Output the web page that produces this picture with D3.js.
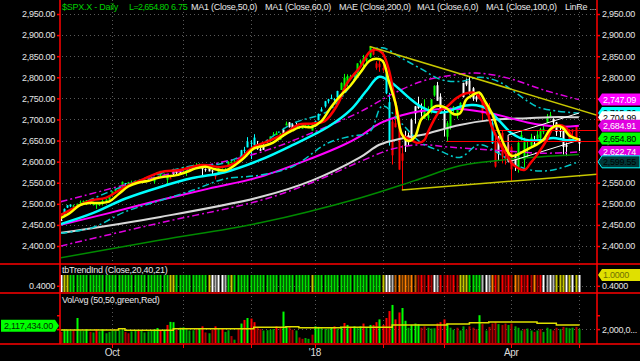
<!DOCTYPE html>
<html>
<head>
<meta charset="utf-8">
<script src="https://cdn.jsdelivr.net/npm/d3@7"></script>
<style>
  body { margin: 0; background: #000; }
  svg { display: block; font-family: "Liberation Sans", Arial, sans-serif; }
  text { font-size: 9px; letter-spacing: -0.25px; }
</style>
</head>
<body>
<svg id="chart" width="640" height="361"></svg>
<script>
// ---- data ----
const dates = [
  "2017-09-08","2017-09-11","2017-09-12","2017-09-13","2017-09-14","2017-09-15","2017-09-18","2017-09-19","2017-09-20","2017-09-21","2017-09-22","2017-09-25","2017-09-26","2017-09-27","2017-09-28","2017-09-29",
  "2017-10-02","2017-10-03","2017-10-04","2017-10-05","2017-10-06","2017-10-09","2017-10-10","2017-10-11","2017-10-12","2017-10-13","2017-10-16","2017-10-17","2017-10-18","2017-10-19","2017-10-20","2017-10-23","2017-10-24","2017-10-25","2017-10-26","2017-10-27","2017-10-30","2017-10-31",
  "2017-11-01","2017-11-02","2017-11-03","2017-11-06","2017-11-07","2017-11-08","2017-11-09","2017-11-10","2017-11-13","2017-11-14","2017-11-15","2017-11-16","2017-11-17","2017-11-20","2017-11-21","2017-11-22","2017-11-24","2017-11-27","2017-11-28","2017-11-29","2017-11-30",
  "2017-12-01","2017-12-04","2017-12-05","2017-12-06","2017-12-07","2017-12-08","2017-12-11","2017-12-12","2017-12-13","2017-12-14","2017-12-15","2017-12-18","2017-12-19","2017-12-20","2017-12-21","2017-12-22","2017-12-26","2017-12-27","2017-12-28","2017-12-29",
  "2018-01-02","2018-01-03","2018-01-04","2018-01-05","2018-01-08","2018-01-09","2018-01-10","2018-01-11","2018-01-12","2018-01-16","2018-01-17","2018-01-18","2018-01-19","2018-01-22","2018-01-23","2018-01-24","2018-01-25","2018-01-26","2018-01-29","2018-01-30","2018-01-31",
  "2018-02-01","2018-02-02","2018-02-05","2018-02-06","2018-02-07","2018-02-08","2018-02-09","2018-02-12","2018-02-13","2018-02-14","2018-02-15","2018-02-16","2018-02-20","2018-02-21","2018-02-22","2018-02-23","2018-02-26","2018-02-27","2018-02-28",
  "2018-03-01","2018-03-02","2018-03-05","2018-03-06","2018-03-07","2018-03-08","2018-03-09","2018-03-12","2018-03-13","2018-03-14","2018-03-15","2018-03-16","2018-03-19","2018-03-20","2018-03-21","2018-03-22","2018-03-23","2018-03-26","2018-03-27","2018-03-28","2018-03-29",
  "2018-04-02","2018-04-03","2018-04-04","2018-04-05","2018-04-06","2018-04-09","2018-04-10","2018-04-11","2018-04-12","2018-04-13","2018-04-16","2018-04-17","2018-04-18","2018-04-19","2018-04-20","2018-04-23","2018-04-24","2018-04-25","2018-04-26","2018-04-27","2018-04-30",
  "2018-05-01"
];

const opens = [
  2462,2474,2491,2494,2495,2496,2502,2506,2507,2507,2497,2499,2501,2503,2503,2510,
  2521,2530,2534,2541,2547,2551,2550,2551,2553,2556,2556,2557,2563,2553,2568,2578,2569,2567,2560,2570,2578,2575,
  2583,2580,2582,2588,2592,2589,2584,2580,2577,2578,2569,2573,2583,2580,2589,2600,2600,2603,2606,2628,2634,
  2645,2657,2640,2626,2628,2646,2652,2662,2668,2666,2661,2686,2693,2688,2683,2684,2679,2682,2686,2689,
  2684,2698,2719,2731,2743,2751,2746,2752,2770,2799,2785,2802,2803,2809,2835,2845,2846,2848,2867,2833,2832,
  2817,2809,2741,2615,2691,2685,2602,2637,2646,2651,2714,2727,2723,2721,2710,2716,2757,2781,2754,
  2715,2659,2681,2730,2710,2733,2753,2791,2792,2774,2754,2751,2741,2715,2715,2691,2647,2619,2668,2611,2611,
  2634,2592,2584,2657,2646,2617,2638,2643,2654,2677,2670,2693,2710,2701,2693,2675,2681,2635,2652,2676,2683,
  2643
];
const highs = [
  2467,2489,2497,2498,2498,2500,2508,2508,2509,2507,2504,2503,2504,2512,2511,2519,
  2529,2535,2541,2553,2549,2552,2555,2555,2555,2558,2560,2560,2564,2562,2575,2578,2572,2567,2567,2583,2580,2578,
  2588,2581,2588,2593,2597,2596,2587,2584,2588,2580,2573,2590,2584,2585,2601,2601,2604,2606,2628,2635,2658,
  2651,2665,2649,2634,2641,2652,2660,2670,2672,2668,2680,2695,2694,2691,2693,2685,2683,2686,2688,2692,
  2696,2714,2729,2744,2749,2759,2751,2768,2788,2808,2807,2806,2810,2833,2842,2853,2849,2873,2871,2838,2839,
  2836,2809,2763,2701,2728,2685,2639,2673,2669,2702,2732,2754,2738,2748,2731,2748,2781,2789,2762,
  2731,2696,2728,2732,2731,2741,2787,2797,2802,2777,2763,2762,2741,2724,2739,2696,2658,2661,2675,2633,2659,
  2638,2619,2650,2672,2657,2654,2666,2661,2675,2680,2687,2713,2718,2703,2694,2683,2684,2645,2677,2677,2683,
  2655
];
const lows = [
  2459,2474,2490,2492,2491,2493,2500,2503,2497,2499,2496,2488,2495,2496,2503,2508,
  2520,2529,2532,2540,2544,2542,2545,2548,2548,2552,2553,2555,2560,2548,2568,2564,2566,2544,2560,2566,2566,2572,
  2575,2566,2577,2586,2584,2585,2566,2576,2577,2567,2558,2573,2578,2578,2589,2597,2600,2599,2605,2620,2634,
  2606,2639,2628,2625,2628,2644,2652,2660,2663,2652,2659,2686,2681,2676,2682,2678,2678,2679,2683,2674,
  2682,2698,2719,2728,2738,2748,2736,2752,2770,2769,2778,2793,2798,2808,2831,2825,2831,2846,2852,2818,2813,
  2813,2760,2638,2593,2681,2581,2533,2623,2637,2649,2690,2725,2707,2701,2698,2714,2754,2744,2714,
  2660,2647,2676,2711,2702,2723,2752,2779,2759,2744,2742,2750,2695,2710,2710,2642,2586,2602,2596,2593,2610,
  2554,2578,2574,2650,2586,2611,2636,2639,2654,2645,2665,2692,2704,2682,2661,2658,2617,2613,2647,2659,2648,
  2625
];
const closes = [
  2461.43,2488.11,2496.48,2498.37,2495.62,2500.23,2503.87,2506.65,2508.24,2500.60,2502.22,2496.66,2496.84,2507.04,2510.06,2519.36,
  2529.12,2534.58,2537.74,2552.07,2549.33,2544.73,2550.64,2555.24,2550.93,2553.17,2557.64,2559.36,2561.26,2562.10,2575.21,2564.98,2569.13,2557.15,2560.40,2581.07,2572.83,2575.26,
  2579.36,2579.85,2587.84,2591.13,2590.64,2594.38,2584.62,2582.30,2584.84,2578.87,2564.62,2585.64,2578.85,2582.14,2599.03,2597.08,2602.42,2601.42,2627.04,2626.07,2647.58,
  2642.22,2639.44,2629.57,2629.27,2636.98,2651.50,2659.99,2664.11,2662.85,2652.01,2675.81,2690.16,2681.47,2679.25,2684.57,2683.34,2680.50,2682.62,2687.54,2673.61,
  2695.81,2713.06,2723.99,2743.15,2747.71,2751.29,2748.23,2767.56,2786.24,2776.42,2802.56,2798.03,2810.30,2832.97,2839.13,2837.54,2839.25,2872.87,2853.53,2822.43,2823.81,
  2821.98,2762.13,2648.94,2695.14,2681.66,2581.00,2619.55,2656.00,2662.94,2698.63,2731.20,2732.22,2716.26,2701.33,2703.96,2747.30,2779.60,2744.28,2713.83,
  2677.67,2691.25,2720.94,2728.12,2726.80,2738.97,2786.57,2783.02,2765.31,2749.48,2747.33,2752.01,2712.92,2716.94,2711.93,2643.69,2588.26,2658.55,2612.62,2605.00,2640.87,
  2581.88,2614.45,2644.69,2662.84,2604.47,2613.16,2656.87,2642.19,2663.99,2656.30,2677.84,2706.39,2708.64,2693.13,2670.14,2670.29,2634.56,2639.40,2666.94,2669.91,2648.05,
  2654.80
];
// candle colour per bar: g green, c cyan, w white, r red
const candleCodes =
  "wcccgggggg" + "gggggggggg" + "cggggggggg" + "ggggrwwwgg" + "ggggwwwwrg" +
  "ggggggcccc" + "cwwwwggggw" + "gwwwgggggc" + "cccccccggg" + "gggggggrrr" +
  "rccrrrrwww" + "wwwggggwww" + "gggggwwwww" + "rrrrcrwrrr" + "rwgggggwgg" +
  "gggwwwwwrr" + "rw";

// volume in thousands (chart units)
const volumes = [
  1900,2000,1980,1950,1960,2400,1950,1930,2000,1900,1880,2000,1920,1990,1850,1900,
  1950,1940,1960,1980,1900,1850,1920,1950,1970,1940,1880,1920,1940,1990,2040,1960,1980,2150,2260,2250,1970,2050,
  2060,2010,1950,1960,2000,2020,2100,1880,1850,1980,2100,2000,2040,1900,1960,1750,1620,2000,2200,2330,2400,
  2380,2250,2050,2000,1950,1960,1980,2000,2100,2050,2630,2100,2080,1980,1950,1700,1650,1680,1650,1800,
  2100,2080,2050,2010,2020,2060,2100,2000,2080,2220,2150,2080,2100,2050,2100,2200,2050,2150,2150,2250,2350,
  2150,2400,2650,2870,2350,2600,2760,2300,2050,2150,2200,2180,2050,2100,2050,2020,2030,2200,2250,
  2350,2200,2050,1980,2050,1950,2100,1980,2100,2050,2000,2500,2180,1950,2080,2200,2250,2180,2150,2200,2150,
  2200,2100,2050,1950,2000,2020,1950,1900,1950,2000,1900,2050,2000,1950,2050,2000,2080,2050,2030,2050,2080,
  2000
];
// VolAvg(50) steps: [bar index, value]
const volAvg = [[0,1968],[18,2015],[20,1957],[35,2015],[60,2065],[70,2087],[74,2050],[87,2065],[103,2148],[120,2184],[127,2231],[133,2256],[148,2209],[154,2148],[161,2117]];

// tbTrendInd colour per bar
const trendCodes =
  "WYYGGGGGGG" + "GGGGGGGGGG" + "GGGGGGGGGG" + "GGGGYYGGGG" + "GGGGGGYWLW" +
  "WLGYGGGGGG" + "GGGGGGGGGG" + "GGGGGGGGYG" + "GGGGGGGGGG" + "GGGGGGGGGG" +
  "YWWLoOoOoO" + "orRrRrWLRr" + "RrRrYYYGGG" + "GLWLORoRrR" + "rOoRrRrOrR" +
  "WLWLYYYWYW" + "YW";

// indicator lines: [bar index, value]
const ma6 = [[0,2466],[3,2479],[6,2497],[9,2502],[12,2502],[15,2505],[18,2523],[21,2541],[24,2550],[27,2554],[30,2561],[33,2565],[36,2568],[39,2575],[42,2584],[45,2588],[48,2582],[51,2579],[54,2591],[57,2609],[60,2631],[63,2637],[66,2645],[69,2661],[72,2674],[75,2683],[78,2682],[81,2696],[84,2729],[87,2757],[90,2780],[93,2810],[96,2839],[98,2844],[100,2839],[102,2789],[104,2739],[106,2665],[108,2649],[110,2658],[112,2700],[114,2714],[116,2730],[118,2732],[120,2726],[122,2713],[124,2714],[126,2747],[128,2758],[130,2764],[132,2741],[134,2714],[136,2672],[138,2637],[140,2614],[142,2617],[144,2625],[146,2633],[148,2641],[150,2652],[152,2676],[154,2685],[156,2680],[158,2662],[160,2655],[161,2652]];
const redLine = [[0,2473],[6,2497],[10,2509],[14,2514],[20,2540],[25,2556],[31,2575],[37,2580],[44,2592],[50,2587],[54,2596],[60,2635],[64,2647],[70,2668],[74,2688],[78,2690],[82,2696],[86,2735],[89,2786],[93,2824],[96,2860],[98,2866],[100,2857],[102,2817],[104,2739],[105,2706],[106,2665],[109,2651],[111,2644],[113,2651],[114,2668],[116,2699],[118,2722],[120,2730],[123,2751],[126,2762],[129,2762],[130,2753],[132,2730],[134,2682],[137,2635],[139,2611],[140,2597],[144,2580],[146,2597],[148,2616],[151,2651],[153,2680],[155,2687],[157,2680],[159,2659],[161,2651]];
const cyanMid = [[0,2452],[10,2478],[20,2512],[31,2540],[41,2561],[51,2575],[62,2604],[72,2639],[83,2682],[90,2722],[95,2768],[99,2801],[103,2786],[108,2753],[112,2730],[116,2718],[120,2718],[124,2730],[128,2734],[132,2727],[136,2699],[140,2668],[145,2651],[149,2651],[153,2656],[157,2651],[161,2652]];
const cyanUpper = [[0,2474],[10,2512],[20,2543],[31,2572],[41,2590],[51,2597],[62,2640],[72,2690],[83,2720],[90,2780],[96,2860],[100,2870],[106,2845],[112,2820],[118,2795],[124,2790],[130,2800],[136,2790],[142,2760],[148,2730],[154,2720],[161,2715]];
const cyanLower = [[0,2430],[10,2444],[20,2481],[31,2508],[41,2532],[51,2559],[62,2568],[72,2588],[83,2644],[90,2660],[96,2670],[100,2732],[106,2690],[112,2645],[118,2625],[124,2610],[130,2640],[136,2620],[142,2590],[148,2578],[154,2582],[161,2600]];
const magentaMid = [[0,2450],[15,2478],[31,2509],[46,2536],[62,2564],[78,2608],[88,2640],[93,2660],[99,2690],[106,2710],[112,2720],[124,2725],[134,2714],[145,2693],[155,2683],[161,2685]];
const magentaUpper = [[0,2505],[31,2566],[62,2622],[78,2668],[93,2718],[103,2760],[112,2790],[120,2803],[129,2810],[139,2798],[150,2770],[161,2747]];
const magentaLower = [[0,2400],[31,2455],[62,2508],[78,2550],[93,2600],[103,2630],[112,2640],[120,2635],[129,2630],[139,2625],[150,2620],[161,2623]];
const ma100 = [[0,2431],[31,2469],[62,2516],[78,2555],[93,2610],[99,2640],[106,2655],[112,2663],[124,2687],[134,2699],[145,2703],[155,2706],[161,2705]];
const ma200 = [[0,2372],[31,2414],[62,2455],[93,2514],[110,2555],[124,2590],[140,2606],[161,2617]];

// trendlines: [bar index, value] start/end (end index past last bar = right edge)
const upperTrend = [[96,2872.87],[166.7,2710]];
const lowerTrend = [[106,2532.69],[166.7,2570]];
const linRegUpper = [[139,2663],[161,2715]];
const linRegLower = [[139,2599],[161,2651]];
const redLevels = [[120,2648],[135,2675]];

const priceTicks = d3.range(2400, 2951, 50);
const monthStarts = ["2017-10-02","2017-11-01","2017-12-01","2018-01-02","2018-02-01","2018-03-01","2018-04-02","2018-05-01"];
const timeTicks = ["2017-10-02","2018-01-02","2018-04-02"];
const timeLabels = ["Oct","'18","Apr"];

const legendText = ["MA1 (Close,50,0)","MA1 (Close,60,0)","MAE (Close,200,0)","MA1 (Close,6,0)","MA1 (Close,100,0)","LinRe ..."];
const rightTags = [2715.36, 2747.09, 2704.99, 2684.91, 2622.74, 2599.55, 2654.80];
const volTag = 2117434;

// ---- drawing ----
const svg = d3.select("#chart");
const W = 640, H = 361;
const L = 60, R = 597;
svg.append("rect").attr("width", W).attr("height", H).attr("fill", "#000");

const x = d3.scaleBand().domain(dates).range([59, 580.5]);
const bw = x.bandwidth();
const xc = (i) => x(dates[0]) + bw / 2 + i * bw; // centre of bar i (fractional allowed)
const y = d3.scaleLinear().domain([2400, 2950]).range([246, 14]);
const yT = d3.scaleLinear().domain([0, 1]).range([293, 275]);
const yV = d3.scaleLinear().domain([1500, 3300]).range([343, 293]);

svg.append("clipPath").attr("id", "pclip")
  .append("rect").attr("x", L + 1).attr("y", 0).attr("width", R - L - 1).attr("height", 264);

// grid
const grid = svg.append("g").attr("stroke", "#5a5a5a").attr("stroke-dasharray", "1,3");
priceTicks.forEach((p) => {
  grid.append("line").attr("x1", L + 2).attr("x2", R).attr("y1", Math.round(y(p)) + 0.5).attr("y2", Math.round(y(p)) + 0.5);
});
[yT(0.4), yV(2000)].forEach((v) => {
  grid.append("line").attr("x1", L + 2).attr("x2", R).attr("y1", Math.round(v) + 0.5).attr("y2", Math.round(v) + 0.5);
});
monthStarts.forEach((d) => {
  const xx = Math.round(x(d) + bw / 2) + 0.5;
  grid.append("line").attr("x1", xx).attr("x2", xx).attr("y1", 0).attr("y2", 344);
});

// price panel content
const price = svg.append("g").attr("clip-path", "url(#pclip)");

const candleColor = { g: "#00ff00", c: "#00ffff", w: "#ffffff", r: "#ff0000" };
dates.forEach((d, i) => {
  const col = candleColor[candleCodes[i]];
  const cx = Math.round(xc(i));
  price.append("line")
    .attr("x1", cx + 0.5).attr("x2", cx + 0.5)
    .attr("y1", y(highs[i])).attr("y2", y(lows[i]))
    .attr("stroke", col).attr("stroke-width", 1);
  const top = y(Math.max(opens[i], closes[i]));
  const bot = y(Math.min(opens[i], closes[i]));
  price.append("rect")
    .attr("x", cx - 0.5).attr("width", 2)
    .attr("y", top).attr("height", Math.max(1, bot - top))
    .attr("fill", col);
});

const line = d3.line()
  .x((d) => xc(d[0]))
  .y((d) => y(d[1]))
  .curve(d3.curveCatmullRom.alpha(0.5));
const straight = d3.line().x((d) => xc(d[0])).y((d) => y(d[1]));

function drawLine(data, color, width, dash, fn) {
  price.append("path")
    .attr("d", (fn || line)(data))
    .attr("fill", "none")
    .attr("stroke", color)
    .attr("stroke-width", width)
    .attr("stroke-dasharray", dash || null)
    .attr("stroke-linejoin", "round");
}

const dashDot = "7,3,2,3";
drawLine(ma200, "#008a00", 1.5);
drawLine(ma100, "#d8d8d8", 2);
drawLine(magentaUpper, "#e000e0", 1.5, dashDot);
drawLine(magentaLower, "#e000e0", 1.5, dashDot);
drawLine(magentaMid, "#ff00ff", 2);
drawLine(cyanUpper, "#00c8c8", 1.5, dashDot);
drawLine(cyanLower, "#00c8c8", 1.5, dashDot);
drawLine(cyanMid, "#00ffff", 2.5);
drawLine(linRegUpper, "#ffffff", 1, null, straight);
drawLine(linRegLower, "#ffffff", 1, null, straight);
price.append("line")
  .attr("x1", xc(linRegUpper[0][0])).attr("x2", xc(linRegLower[0][0]))
  .attr("y1", y(linRegUpper[0][1])).attr("y2", y(linRegLower[0][1]))
  .attr("stroke", "#fff");
redLevels.forEach(([i, v]) => {
  price.append("line")
    .attr("x1", xc(i)).attr("x2", R)
    .attr("y1", Math.round(y(v)) + 0.5).attr("y2", Math.round(y(v)) + 0.5)
    .attr("stroke", "#ff0000").attr("stroke-width", 1);
});
drawLine(redLine, "#ff0000", 2.5);
drawLine(ma6, "#ffff00", 2.5);
drawLine(upperTrend, "#c8c800", 1.5, null, straight);
drawLine(lowerTrend, "#c8c800", 1.5, null, straight);

// trend indicator bars
const trendColor = { G: "#00e000", Y: "#c8c800", W: "#ffffff", L: "#b4b4b4", O: "#ff8000", o: "#c06000", R: "#ff0000", r: "#b00000" };
dates.forEach((d, i) => {
  svg.append("rect")
    .attr("x", Math.round(xc(i)) - 0.5).attr("width", 2)
    .attr("y", yT(1)).attr("height", yT(0) - yT(1) - 1)
    .attr("fill", trendColor[trendCodes[i]]);
});

// volume bars
function avgAt(i) {
  let v = volAvg[0][1];
  volAvg.forEach(([k, a]) => { if (k <= i) v = a; });
  return v;
}
dates.forEach((d, i) => {
  const up = i === 0 ? closes[i] >= opens[i] : closes[i] >= closes[i - 1];
  const strong = volumes[i] > avgAt(i);
  const col = up ? (strong ? "#00ff00" : "#00a800") : (strong ? "#ff0000" : "#b00000");
  svg.append("rect")
    .attr("x", Math.round(xc(i)) - 0.5).attr("width", 2)
    .attr("y", yV(volumes[i])).attr("height", yV(1500) - yV(volumes[i]))
    .attr("fill", col);
});
svg.append("path")
  .attr("d", d3.line().x((d) => xc(d[0])).y((d) => yV(d[1])).curve(d3.curveStepAfter)(volAvg))
  .attr("fill", "none").attr("stroke", "#e0e000").attr("stroke-width", 1.5);

// frame
const frame = svg.append("g").attr("stroke", "#ff0000").attr("stroke-width", 1.5);
[264, 293, 344].forEach((yy) => frame.append("line").attr("x1", 0).attr("x2", W).attr("y1", yy).attr("y2", yy));
[L, R].forEach((xx) => frame.append("line").attr("x1", xx).attr("x2", xx).attr("y1", 0).attr("y2", 344));
monthStarts.forEach((d) => {
  const xx = Math.round(x(d) + bw / 2) + 0.5;
  frame.append("line").attr("x1", xx).attr("x2", xx).attr("y1", 344).attr("y2", 348).attr("stroke-width", 1);
});

// axes
function styleAxis(g) {
  g.select(".domain").remove();
  g.selectAll(".tick line").attr("stroke", "#ff0000").attr("stroke-width", 1.5);
  g.selectAll(".tick text").attr("fill", "#e4e4e4").style("font-size", "9px").style("font-family", null);
}
const fmtP = d3.format(",.2f");
svg.append("g").attr("transform", `translate(${L},0)`)
  .call(d3.axisLeft(y).tickValues(priceTicks).tickSize(3).tickPadding(2).tickFormat(fmtP)).call(styleAxis);
svg.append("g").attr("transform", `translate(${R},0)`)
  .call(d3.axisRight(y).tickValues(priceTicks).tickSize(3).tickPadding(2).tickFormat(fmtP)).call(styleAxis);
svg.append("g").attr("transform", `translate(${L},0)`)
  .call(d3.axisLeft(yT).tickValues([0.4]).tickSize(3).tickPadding(2).tickFormat(d3.format(".4f"))).call(styleAxis);
svg.append("g").attr("transform", `translate(${R},0)`)
  .call(d3.axisRight(yT).tickValues([0.4]).tickSize(3).tickPadding(2).tickFormat(d3.format(".4f"))).call(styleAxis);
svg.append("g").attr("transform", `translate(${L},0)`)
  .call(d3.axisLeft(yV).tickValues([2000, 2500]).tickSize(3).tickFormat("")).call(styleAxis);
svg.append("g").attr("transform", `translate(${R},0)`)
  .call(d3.axisRight(yV).tickValues([2000, 2500]).tickSize(3).tickPadding(2)
    .tickFormat((v) => (v === 2000 ? "2,000,0..." : ""))).call(styleAxis);

const xAxis = svg.append("g").attr("transform", "translate(0,344)")
  .call(d3.axisBottom(x).tickValues(timeTicks).tickSize(0).tickPadding(5)
    .tickFormat((d) => timeLabels[timeTicks.indexOf(d)]));
xAxis.select(".domain").remove();
xAxis.selectAll("text").attr("fill", "#dcdcdc").style("font-size", "10px").style("font-family", null);

// legend texts
svg.append("text").attr("x", 62).attr("y", 9.5).attr("fill", "#00d000")
  .text("$SPX.X - Daily");
svg.append("text").attr("x", 129).attr("y", 9.5).attr("fill", "#00d000").style("letter-spacing", "-0.6px")
  .text("L=" + fmtP(closes[closes.length - 1]));
svg.append("text").attr("x", 171).attr("y", 9.5).attr("fill", "#00d000")
  .text((closes[161] - closes[160]).toFixed(2));
const legendX = [191, 265, 339, 417, 486, 565];
legendText.forEach((t, i) => {
  svg.append("text").attr("x", legendX[i]).attr("y", 9.5).attr("fill", "#e8e8e8").text(t);
});
svg.append("text").attr("x", 62).attr("y", 273).attr("fill", "#e8e8e8")
  .text("tbTrendInd (Close,20,40,21)");
svg.append("text").attr("x", 62).attr("y", 303).attr("fill", "#e8e8e8")
  .text("VolAvg (50,50,green,Red)");

// value tags
function tagRight(yy, fill, textFill, label, stroke) {
  const g = svg.append("g");
  g.append("path")
    .attr("d", `M${R + 1},${yy} L${R + 5},${yy - 6} H${W} V${yy + 6} H${R + 5} Z`)
    .attr("fill", fill).attr("stroke", stroke || "none");
  g.append("text").attr("x", R + 6).attr("y", yy + 3.3).attr("fill", textFill).text(label);
}
const tagStyle = [
  ["#00ffff", "#000", null],
  ["#ff00ff", "#fff", null],
  ["#ffffff", "#000", null],
  ["#e000e0", "#fff", null],
  ["#e000e0", "#fff", null],
  ["#003838", "#000", "#00ffff"],
  ["#00ff00", "#000", null]
];
rightTags.forEach((v, i) => tagRight(y(v), tagStyle[i][0], tagStyle[i][1], fmtP(v), tagStyle[i][2]));
tagRight(yT(1), "#e0e000", "#707000", "1.0000");

const vy = yV(volTag / 1000);
svg.append("path")
  .attr("d", `M1,${vy - 6} H${L - 5} L${L - 1},${vy} L${L - 5},${vy + 6} H1 Z`)
  .attr("fill", "#00ff00");
svg.append("text").attr("x", 4).attr("y", vy + 3.3).attr("fill", "#003000").text(fmtP(volTag));
</script>
</body>
</html>
